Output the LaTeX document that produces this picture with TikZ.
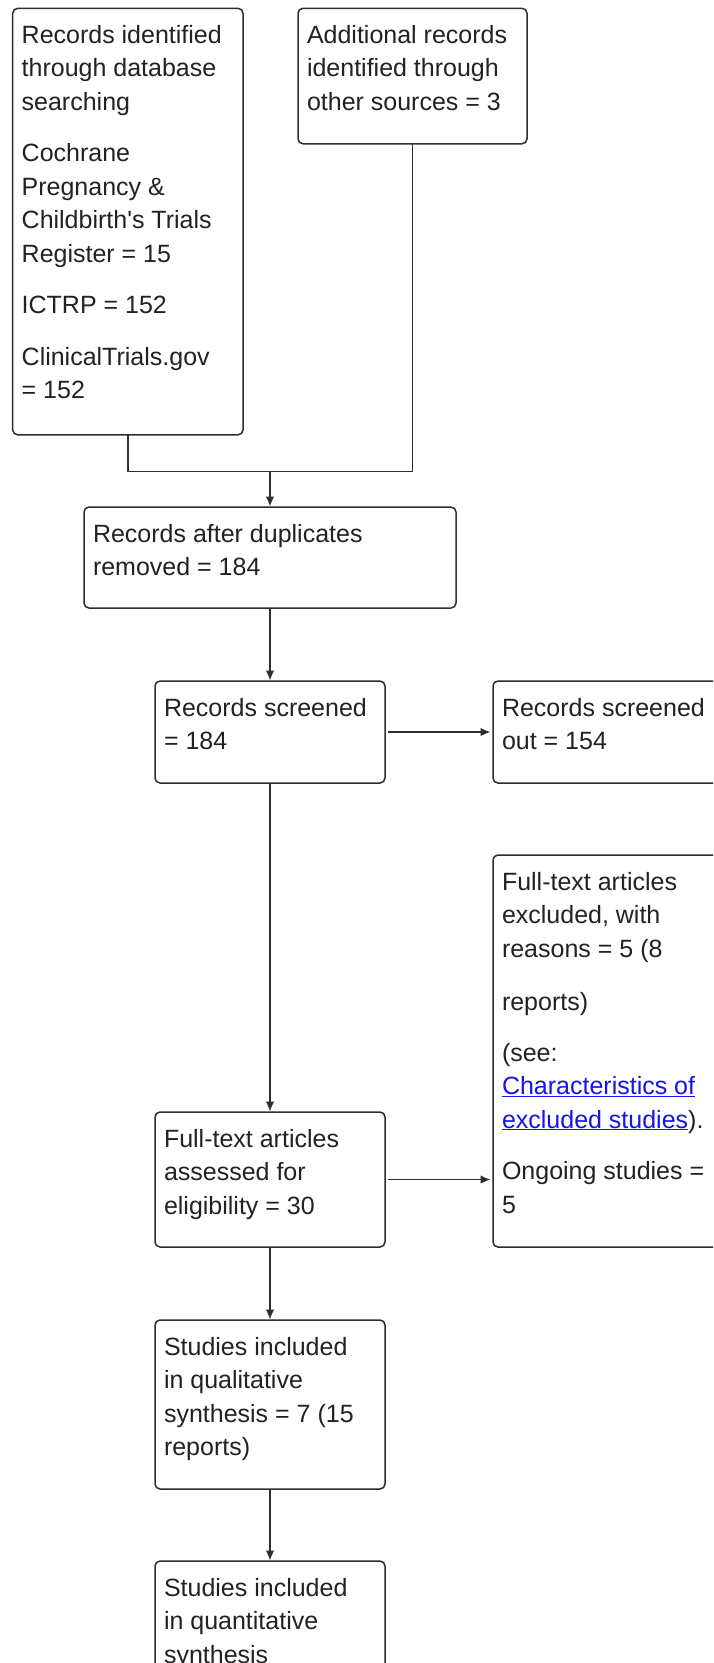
\documentclass[tikz,border=0pt]{standalone}
\usepackage{fontspec}
\setmainfont{Liberation Sans}
\usetikzlibrary{arrows.meta}
\definecolor{linkblue}{RGB}{20,20,235}
\definecolor{txtc}{RGB}{34,34,34}
\definecolor{edgec}{RGB}{45,45,45}
\newcommand{\bx}[3]{\parbox[t][#2][t]{#1}{\fontsize{25}{33.5}\selectfont\raggedright\null\vspace*{1.5pt}#3}}
\newcommand{\lnk}[1]{{\color{linkblue}\underline{#1}}}
\begin{document}
\begin{tikzpicture}[x=1pt,y=-1pt,
  box/.style={draw=edgec, line width=1.5pt, rounded corners=5pt, inner xsep=9pt, inner ysep=0pt, outer sep=0pt, anchor=north west, text=txtc},
  conn/.style={draw=edgec, line width=1.3pt},
  arr/.style={conn, -{Latex[length=10pt,width=8.5pt]}, shorten >=0.5pt}]
\useasboundingbox (0,0) rectangle (713,1663);
\fill[white] (0,0) rectangle (713,1663);
\clip (0,0) rectangle (713,1663);

\node[box] (A) at (12.7,8.3) {\bx{212.3pt}{426.5pt}{Records identified\\through database\\searching\\[18pt]Cochrane\\Pregnancy \&\\Childbirth\textquotesingle s Trials\\Register = 15\\[18pt]ICTRP = 152\\[18pt]ClinicalTrials.gov\\= 152}};
\node[box] (B) at (298,8.3) {\bx{211pt}{135.5pt}{Additional records\\identified through\\other sources = 3}};
\node[box] (C) at (84,507) {\bx{354pt}{101pt}{Records after duplicates\\removed = 184}};
\node[box] (D) at (155,681) {\bx{212pt}{102pt}{Records screened\\= 184}};
\node[box] (E) at (493,681) {\bx{242pt}{102pt}{Records screened\\out = 154}};
\node[box] (F) at (493,855) {\bx{242pt}{392pt}{Full-text articles\\excluded, with\\reasons = 5 (8\\[20pt]reports)\\[17pt](see:\\\lnk{Characteristics of}\\\lnk{excluded studies}).\\[18pt]Ongoing studies =\\5}};
\node[box] (G) at (155,1112) {\bx{212pt}{135pt}{Full-text articles\\assessed for\\eligibility = 30}};
\node[box] (H) at (155,1320) {\bx{212pt}{169pt}{Studies included\\in qualitative\\synthesis = 7 (15\\reports)}};
\node[box] (I) at (155,1561) {\bx{212pt}{160pt}{Studies included\\in quantitative\\synthesis}};

\coordinate (j) at (C.north |- 0,471.7);
\draw[conn] (A.south) |- (j);
\draw[conn] (B.south) |- (j);
\draw[arr] (j) -- (C.north);
\draw[arr] (C.south) -- (D.north);
\draw[arr, shorten <=3pt, shorten >=2.5pt] (D.east) -- (E.west);
\draw[arr] (D.south) -- (G.north);
\draw[arr, shorten <=3pt, shorten >=2.5pt] (G.east) -- (G.east -| F.west);
\draw[arr] (G.south) -- (H.north);
\draw[arr] (H.south) -- (I.north);
\end{tikzpicture}
\end{document}
